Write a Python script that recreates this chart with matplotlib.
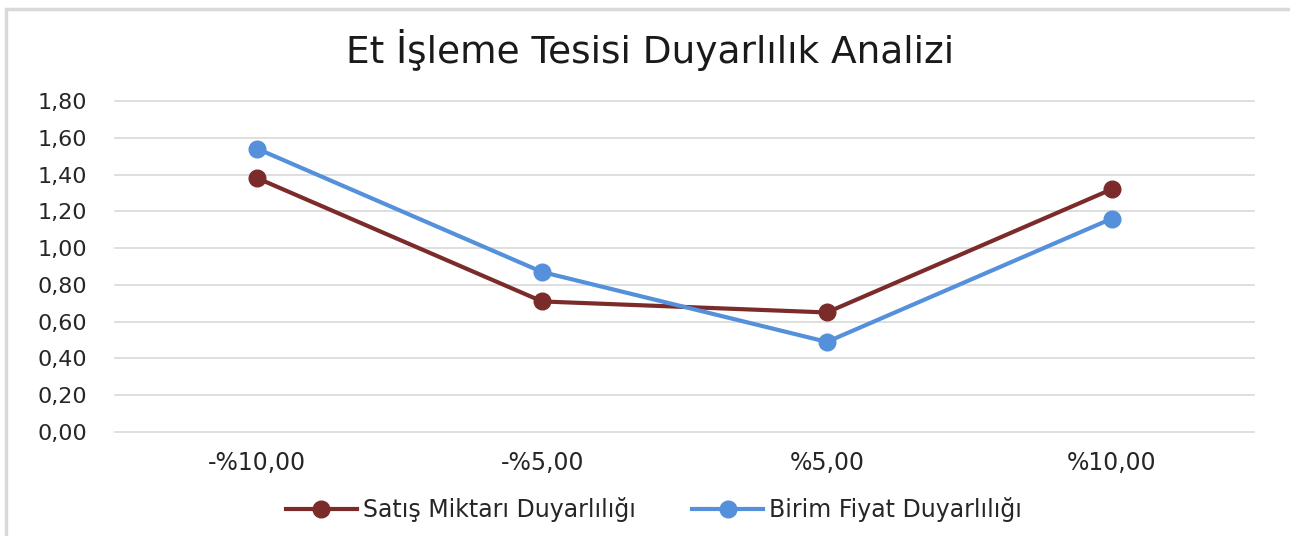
import matplotlib
matplotlib.use('Agg')
import matplotlib.pyplot as plt
from matplotlib.patches import Rectangle

categories = ['-%10,00', '-%5,00', '%5,00', '%10,00']
satis_miktari = [1.38, 0.71, 0.65, 1.32]
birim_fiyat = [1.54, 0.87, 0.49, 1.16]
y_ticks = [0.0, 0.2, 0.4, 0.6, 0.8, 1.0, 1.2, 1.4, 1.6, 1.8]

plt.rcParams['font.family'] = ['DejaVu Sans']

fig = plt.figure(figsize=(12.9, 5.36), dpi=100)
# chart frame
fig.patches.append(Rectangle((6 / 1290, -0.1), 1.2, 1.1 - 9 / 536,
                             transform=fig.transFigure, fill=False,
                             edgecolor='#D9D9D9', linewidth=2.5))

ax = fig.add_axes([115 / 1290, 1 - 432 / 536, (1254 - 115) / 1290, (432 - 101) / 536])
x = range(len(categories))
ax.plot(x, satis_miktari, color='#7B2C2A', linewidth=3, marker='o', markersize=12,
        label='Satış Miktarı Duyarlılığı', zorder=3)
ax.plot(x, birim_fiyat, color='#5590DA', linewidth=3, marker='o', markersize=12,
        label='Birim Fiyat Duyarlılığı', zorder=3)

ax.set_xlim(-0.5, len(categories) - 0.5)
ax.set_ylim(0, 1.8)
ax.set_yticks(y_ticks)
ax.set_yticklabels([f'{v:.2f}'.replace('.', ',') for v in y_ticks])
ax.set_xticks(list(x))
ax.set_xticklabels(categories)
ax.tick_params(axis='both', length=0, labelsize=16, colors='#262626')
ax.tick_params(axis='x', labelsize=17, pad=14)
ax.tick_params(axis='y', pad=20)
ax.grid(axis='y', color='#D9D9D9', linewidth=1.2)
for gl in ax.get_ygridlines():
    gl.set_clip_on(False)
ax.set_axisbelow(True)
for s in ax.spines.values():
    s.set_visible(False)

fig.text(650 / 1290, 1 - 50 / 536, 'Et İşleme Tesisi Duyarlılık Analizi',
         ha='center', va='center', fontsize=27, color='#1a1a1a')

fig.legend(loc='center', bbox_to_anchor=(654 / 1290, 1 - 510 / 536), ncol=2,
           frameon=False, fontsize=17, handlelength=3.0, columnspacing=2.4,
           handletextpad=0.25, labelcolor='#262626')

plt.savefig('out.png', dpi=100)
